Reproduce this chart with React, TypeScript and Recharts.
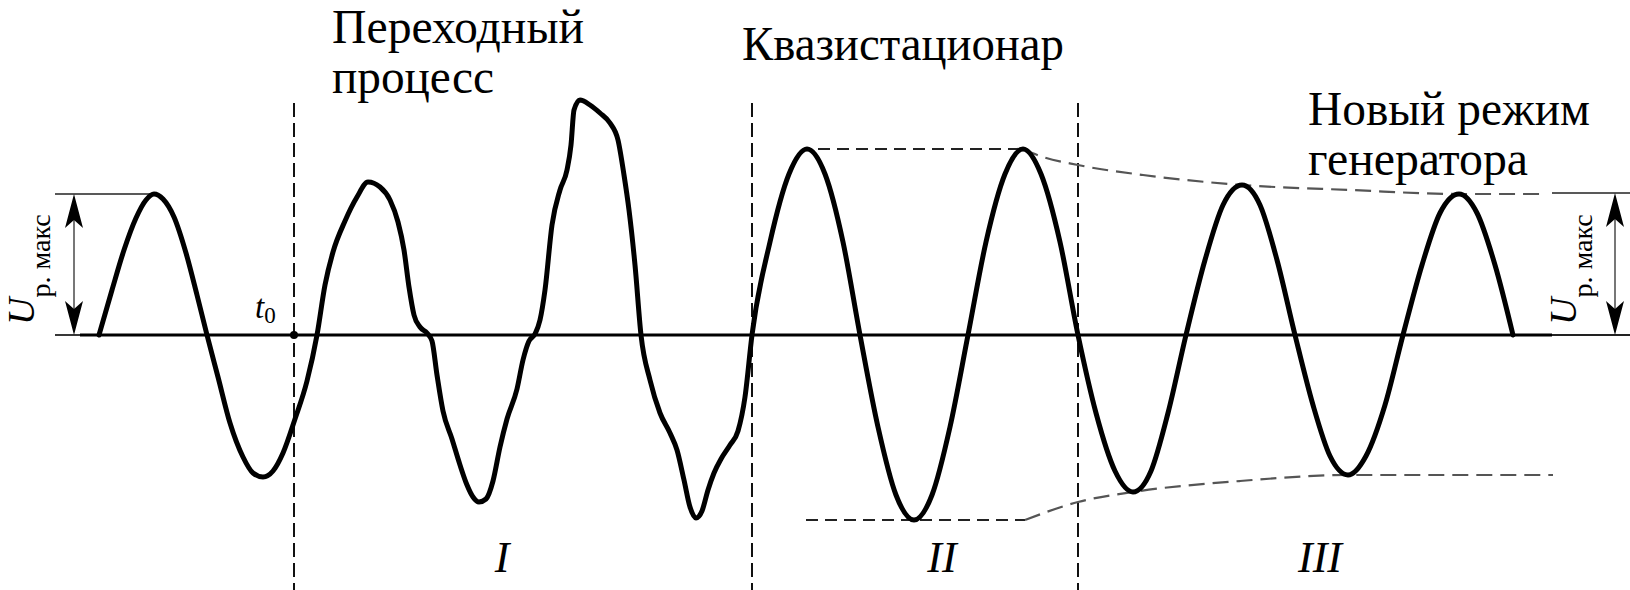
import React from 'react';
import { LineChart, Line, XAxis, YAxis, ReferenceLine, ReferenceDot } from 'recharts';

const FONT = "'Liberation Serif', 'Times New Roman', Tinos, 'DejaVu Serif', 'Noto Serif', serif";
const W = 1630;
const H = 590;

// Oscillation: time (arbitrary units) and voltage (arbitrary units)
const waveTime = [
  99, 112, 124, 136, 146, 154, 163, 174, 186, 197, 207, 218, 230, 243, 253, 263, 273, 283, 295, 307,
  317, 325, 333, 345, 357, 368, 380, 390, 398, 404, 409, 414, 420, 427, 432, 437, 443, 452, 460, 467,
  473, 479, 486, 493, 500, 507, 517, 523, 529, 535, 540, 545, 552, 560, 567, 571, 574, 580, 590, 600,
  610, 618, 624, 629, 635, 641, 650, 660, 670, 677, 684, 690, 696, 702, 708, 714, 721, 730, 738, 745,
  752, 770, 789, 807, 825, 843, 860, 878, 896, 914, 932, 950, 968, 986, 1005, 1023, 1041, 1060, 1078,
  1096, 1115, 1133, 1151, 1168, 1186, 1205, 1223, 1242, 1260, 1277, 1295, 1313, 1330, 1348, 1366, 1385,
  1403, 1422, 1440, 1459, 1477, 1495, 1513,
];
const waveVoltage = [
  0, 45, 85, 117, 135, 141, 136, 118, 82, 40, 0, -42, -88, -122, -138, -142, -136, -118, -84, -46,
  0, 50, 83, 114, 138, 153, 148, 135, 113, 85, 48, 20, 8, 2, -6, -40, -76, -104, -130, -150,
  -162, -167, -164, -146, -112, -84, -54, -25, -6, 1, 15, 45, 110, 145, 165, 190, 225, 235, 230, 222,
  212, 195, 160, 125, 70, 0, -45, -78, -98, -115, -145, -172, -183, -176, -155, -138, -124, -110, -96, -62,
  0, 93, 161, 186, 161, 93, 0, -92, -160, -185, -160, -92, 0, 93, 161, 186, 161, 93, 0,
  -78, -136, -157, -136, -78, 0, 75, 130, 150, 130, 75, 0, -70, -121, -140, -121, -70,
  0, 70, 122, 141, 122, 70, 0,
];

// Amplitude envelopes
const envTopFlatTime = [818, 1023];
const envTopFlatU = [186, 186];
const envTopDecayTime = [1023, 1040, 1078, 1143, 1242, 1350, 1459, 1545];
const envTopDecayU = [186, 179, 170, 160, 150, 145, 141, 141];
const envBottomFlatTime = [806, 1025];
const envBottomFlatU = [-185, -185];
const envBottomRiseTime = [1025, 1078, 1133, 1240, 1348, 1553];
const envBottomRiseU = [-185, -167, -157, -146, -140, -140];

// Stage boundaries (t0, end of I, end of II) and stage labels
const boundaryTimes = [294, 752, 1078];
const stageLabels = ['I', 'II', 'III'];
const stageLabelTimes = [502, 942, 1320];

// Region titles: text, anchor time, anchor voltage (baseline), rendered width
const titleTexts = ['Переходный', 'процесс', 'Квазистационар', 'Новый режим', 'генератора'];
const titleTimes = [332, 332, 742, 1308, 1308];
const titleVoltages = [292, 242, 275, 210, 160];
const titleWidths = [252, 162, 322, 282, 220];

const U_MAX_LEFT = 141;
const U_MAX_RIGHT = 142;

const zip = (ts: number[], us: number[]) => ts.map((t, i) => ({ t, u: us[i] }));

const waveData = zip(waveTime, waveVoltage);

const arrowShape = (p: any) => {
  const { x1, y1, x2, y2 } = p;
  const top = Math.min(y1, y2);
  const bot = Math.max(y1, y2);
  const x = x1;
  const hl = 34;
  const hw = 9;
  return (
    <g>
      <line x1={x} y1={top + 10} x2={x} y2={bot - 10} stroke="#555" strokeWidth={1.6} />
      <polygon points={`${x},${top} ${x - hw},${top + hl} ${x},${top + hl - 8} ${x + hw},${top + hl}`} fill="#000" />
      <polygon points={`${x},${bot} ${x - hw},${bot - hl} ${x},${bot - hl + 8} ${x + hw},${bot - hl}`} fill="#000" />
    </g>
  );
};

const titleShape = (label: string, width: number) => (p: any) => (
  <text
    x={p.cx}
    y={p.cy}
    textLength={width}
    lengthAdjust="spacingAndGlyphs"
    style={{ fontFamily: FONT, fontSize: 48, fill: '#000' }}
  >
    {label}
  </text>
);

const uLabelShape = (p: any) => (
  <text transform={`translate(${p.cx},${p.cy}) rotate(-90)`} style={{ fontFamily: FONT, fill: '#000' }}>
    <tspan style={{ fontStyle: 'italic', fontSize: 38 }}>U</tspan>
    <tspan style={{ fontSize: 28 }} dy={16}>р. макс</tspan>
  </text>
);

const t0Shape = (p: any) => (
  <text x={p.cx} y={p.cy} style={{ fontFamily: FONT, fill: '#000' }}>
    <tspan style={{ fontStyle: 'italic', fontSize: 33 }}>t</tspan>
    <tspan style={{ fontSize: 23 }} dy={5}>0</tspan>
  </text>
);

const stageShape = (label: string) => (p: any) => (
  <text x={p.cx} y={p.cy} textAnchor="middle" style={{ fontFamily: FONT, fontStyle: 'italic', fontSize: 44, fill: '#000' }}>
    {label}
  </text>
);

export default function App() {
  return (
    <div style={{ position: 'absolute', left: 0, top: 0, width: W, height: H, background: '#fff', fontFamily: FONT }}>
      <LineChart width={W} height={H} margin={{ top: 0, right: 0, bottom: 0, left: 0 }}>
        <XAxis type="number" dataKey="t" domain={[0, 1630]} hide allowDataOverflow />
        <YAxis type="number" dataKey="u" domain={[-255, 335]} hide allowDataOverflow />

        {/* thin reference lines for U max */}
        <ReferenceLine segment={[{ x: 55, y: U_MAX_LEFT }, { x: 153, y: U_MAX_LEFT }]} stroke="#222" strokeWidth={1.6} />
        <ReferenceLine segment={[{ x: 55, y: 0 }, { x: 80, y: 0 }]} stroke="#222" strokeWidth={1.8} />
        <ReferenceLine segment={[{ x: 1552, y: U_MAX_RIGHT }, { x: 1630, y: U_MAX_RIGHT }]} stroke="#222" strokeWidth={1.6} />
        <ReferenceLine segment={[{ x: 1552, y: 0 }, { x: 1630, y: 0 }]} stroke="#222" strokeWidth={1.8} />

        {/* time axis */}
        <ReferenceLine segment={[{ x: 80, y: 0 }, { x: 1552, y: 0 }]} stroke="#000" strokeWidth={3} />

        {/* stage boundaries */}
        {boundaryTimes.map((t) => (
          <ReferenceLine key={t} segment={[{ x: t, y: 232 }, { x: t, y: -255 }]} stroke="#111" strokeWidth={2} strokeDasharray="14 6" />
        ))}

        {/* arrows */}
        <ReferenceLine segment={[{ x: 74, y: U_MAX_LEFT }, { x: 74, y: 0 }]} stroke="#444" shape={arrowShape} />
        <ReferenceLine segment={[{ x: 1615, y: U_MAX_RIGHT }, { x: 1615, y: 0 }]} stroke="#444" shape={arrowShape} />

        {/* envelopes */}
        <Line data={zip(envTopFlatTime, envTopFlatU)} dataKey="u" type="linear" stroke="#222" strokeWidth={2.2} strokeDasharray="12 7" dot={false} activeDot={false} isAnimationActive={false} />
        <Line data={zip(envBottomFlatTime, envBottomFlatU)} dataKey="u" type="linear" stroke="#222" strokeWidth={2.2} strokeDasharray="12 7" dot={false} activeDot={false} isAnimationActive={false} />
        <Line data={zip(envTopDecayTime, envTopDecayU)} dataKey="u" type="monotone" stroke="#555" strokeWidth={2.2} strokeDasharray="16 8" dot={false} activeDot={false} isAnimationActive={false} />
        <Line data={zip(envBottomRiseTime, envBottomRiseU)} dataKey="u" type="monotone" stroke="#555" strokeWidth={2.2} strokeDasharray="16 8" dot={false} activeDot={false} isAnimationActive={false} />

        {/* oscillation */}
        <Line data={waveData} dataKey="u" type="monotone" stroke="#000" strokeWidth={5} strokeLinecap="round" strokeLinejoin="round" dot={false} activeDot={false} isAnimationActive={false} />

        <ReferenceDot x={294} y={0} r={4} fill="#000" stroke="none" />

        {/* texts */}
        {titleTexts.map((s, i) => (
          <ReferenceDot key={s} x={titleTimes[i]} y={titleVoltages[i]} r={1} shape={titleShape(s, titleWidths[i])} />
        ))}
        {stageLabels.map((l, i) => (
          <ReferenceDot key={l} x={stageLabelTimes[i]} y={-237} r={1} shape={stageShape(l)} />
        ))}
        <ReferenceDot x={255} y={17} r={1} shape={t0Shape} />
        <ReferenceDot x={34} y={10} r={1} shape={uLabelShape} />
        <ReferenceDot x={1576} y={10} r={1} shape={uLabelShape} />
      </LineChart>
    </div>
  );
}
